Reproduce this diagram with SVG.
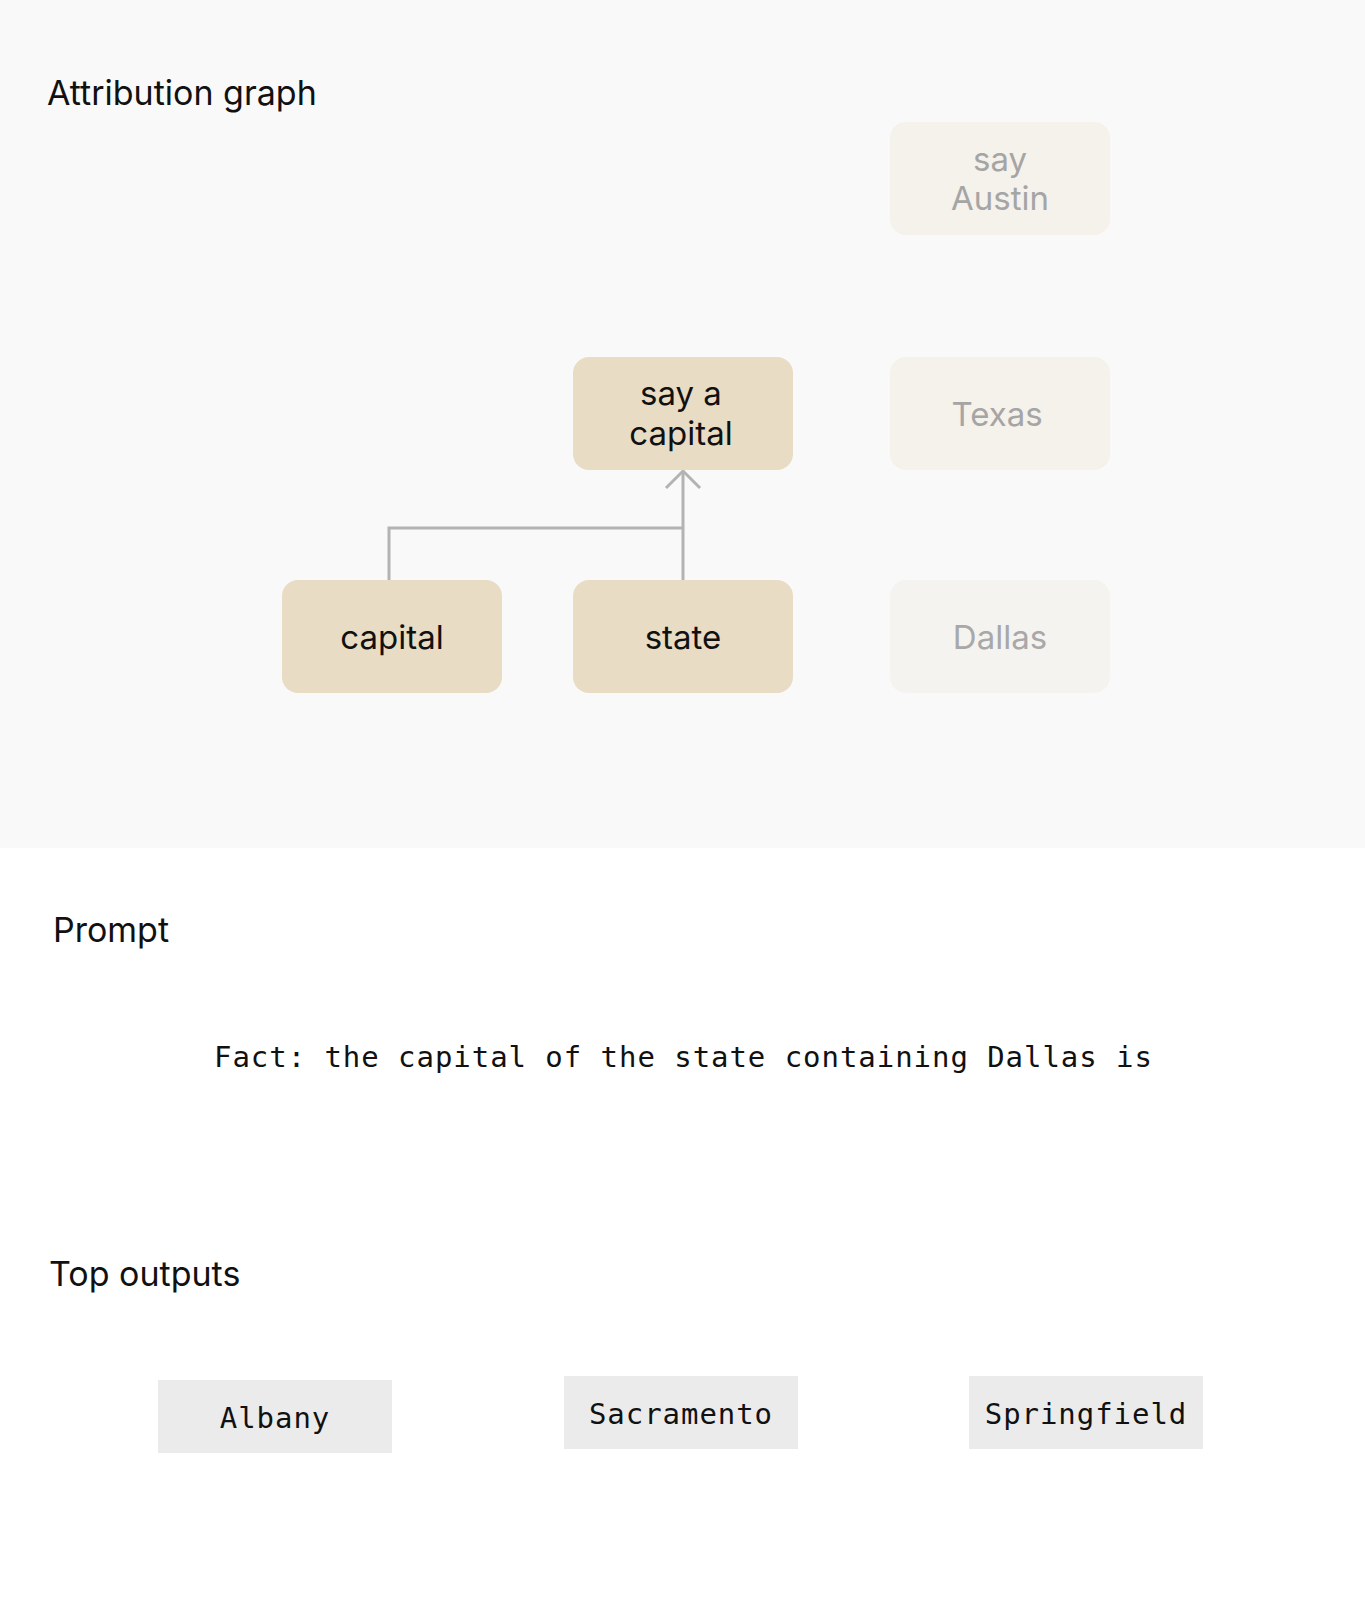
<svg xmlns="http://www.w3.org/2000/svg" width="1365" height="1599" viewBox="0 0 1365 1599">
<style>
.title{font-family:Inter,"Noto Sans",sans-serif;font-size:34px;fill:#111111}
.nl{font-family:Inter,"Noto Sans",sans-serif;font-size:33px;text-anchor:middle}
.on rect{fill:#E9DCC4}
.on text{fill:#111111}
.off rect{fill:#F5F1EB}
.off text{fill:#A5A5A5}
.dim rect{fill:#F5F3EF}
.dim text{fill:#A8A8A8}
.mono{font-family:"DejaVu Sans Mono","Liberation Mono",monospace;font-size:29px;letter-spacing:0.95px;fill:#111111}
.out rect{fill:#EBEBEB}
.conn{fill:none;stroke:#B3B3B3;stroke-width:3}
</style>
<rect x="0" y="0" width="1365" height="1599" fill="#FFFFFF"/>
<rect x="0" y="0" width="1365" height="848" fill="#F9F9F9"/>
<text class="title" x="47" y="105">Attribution graph</text>
<text class="title" x="53" y="942">Prompt</text>
<text class="title" x="49" y="1286">Top outputs</text>

<g id="connectors">
<path class="conn" d="M389,580 V528 H683"/>
<path class="conn" d="M683,580 V472"/>
<path class="conn" d="M666,488 L683,471 L700,488"/>
</g>

<g id="node-say-austin" class="off">
<rect x="890" y="122" width="220" height="113" rx="16"/>
<text class="nl" x="1000" y="171">say</text>
<text class="nl" x="1000" y="210">Austin</text>
</g>
<g id="node-say-a-capital" class="on">
<rect x="573" y="357" width="220" height="113" rx="16"/>
<text class="nl" x="681" y="405">say a</text>
<text class="nl" x="681" y="445">capital</text>
</g>
<g id="node-texas" class="off">
<rect x="890" y="357" width="220" height="113" rx="16"/>
<text class="nl" x="997" y="426">Texas</text>
</g>
<g id="node-capital" class="on">
<rect x="282" y="580" width="220" height="113" rx="16"/>
<text class="nl" x="392" y="649">capital</text>
</g>
<g id="node-state" class="on">
<rect x="573" y="580" width="220" height="113" rx="16"/>
<text class="nl" x="683" y="649">state</text>
</g>
<g id="node-dallas" class="dim">
<rect x="890" y="580" width="220" height="113" rx="16"/>
<text class="nl" x="1000" y="649">Dallas</text>
</g>

<g id="prompt">
<text class="mono" x="214" y="1067">Fact: the capital of the state containing Dallas is</text>
</g>

<g id="out-albany" class="out">
<rect x="158" y="1380" width="234" height="73"/>
<text class="mono" x="275" y="1428" text-anchor="middle">Albany</text>
</g>
<g id="out-sacramento" class="out">
<rect x="564" y="1376" width="234" height="73"/>
<text class="mono" x="681" y="1424" text-anchor="middle">Sacramento</text>
</g>
<g id="out-springfield" class="out">
<rect x="969" y="1376" width="234" height="73"/>
<text class="mono" x="1086" y="1424" text-anchor="middle">Springfield</text>
</g>
</svg>
